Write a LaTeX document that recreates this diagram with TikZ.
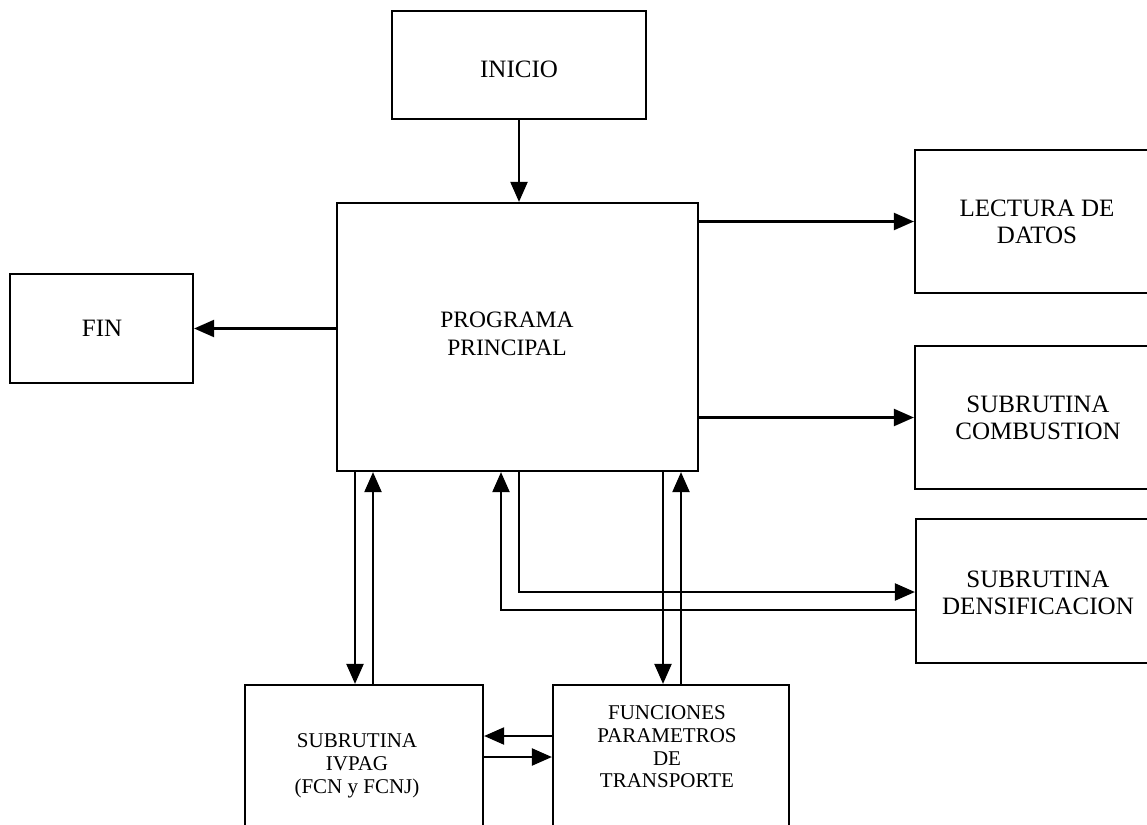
\documentclass[tikz,border=0pt]{standalone}
\usepackage{fontspec}
\setmainfont{Liberation Serif}
\usetikzlibrary{arrows.meta}
\tikzset{
  box/.style={draw, line width=2.2pt, rectangle, inner sep=0pt},
  txt/.style={align=center, inner sep=0pt, font=\fontsize{25}{27}\selectfont},
  txtmain/.style={align=center, inner sep=0pt, font=\fontsize{23.5}{28.5}\selectfont},
  txtsmall/.style={align=center, inner sep=0pt, font=\fontsize{21}{22.7}\selectfont},
  arr/.style={line width=2.2pt, -{Triangle[length=20pt,width=17pt]}}
}
\begin{document}
\begin{tikzpicture}[x=1pt,y=-1pt]
\useasboundingbox (0,0) rectangle (1147,824);
\clip (0,0) rectangle (1147,824);
\fill[white] (0,0) rectangle (1147,824);
% boxes
\node[box, minimum width=254pt, minimum height=108pt] (inicio) at (519,65) {};
\node[box, minimum width=361pt, minimum height=268pt] (main) at (517.5,337) {};
\node[box, minimum width=183pt, minimum height=109pt] (fin) at (101.5,328.5) {};
\node[box, minimum width=245pt, minimum height=143pt] (lectura) at (1037.5,221.5) {};
\node[box, minimum width=245pt, minimum height=143pt] (comb) at (1037.5,417.5) {};
\node[box, minimum width=244pt, minimum height=144pt] (densif) at (1038,591) {};
\node[box, minimum width=238pt, minimum height=175pt] (ivpag) at (364,772.5) {};
\node[box, minimum width=236pt, minimum height=175pt] (func) at (671,772.5) {};
% texts
\node[txt] (tinicio) at (519,69) {INICIO};
\node[txtmain] (tmain) at (507,334) {PROGRAMA\\PRINCIPAL};
\node[txt] (tfin) at (102,328) {FIN};
\node[txt] (tlectura) at (1037,222) {LECTURA DE\\DATOS};
\node[txt] (tcomb) at (1038,418) {SUBRUTINA\\COMBUSTION};
\node[txt] (tdensif) at (1038,593) {SUBRUTINA\\DENSIFICACION};
\node[txtsmall] (tivpag) at (357,766) {SUBRUTINA\\IVPAG\\(FCN y FCNJ)};
\node[txtsmall] (tfunc) at (667,747) {FUNCIONES\\PARAMETROS\\DE\\TRANSPORTE};
% helper coordinates
\coordinate (xa) at (355,0);
\coordinate (xb) at (373,0);
\coordinate (xc) at (501,0);
\coordinate (xd) at (519,0);
\coordinate (xe) at (663,0);
\coordinate (xf) at (681,0);
\coordinate (ya) at (0,592);
\coordinate (yb) at (0,610);
\coordinate (yc) at (0,736);
\coordinate (yd) at (0,757);
% connectors
\draw[arr] (inicio.south) -- (inicio.south |- main.north);
\draw[arr] (main.west |- fin.east) -- (fin.east);
\draw[arr] (main.east |- lectura.west) -- (lectura.west);
\draw[arr] (main.east |- comb.west) -- (comb.west);
\draw[arr] (main.south -| xd) |- (densif.west |- ya);
\draw[arr] (densif.west |- yb) -| (main.south -| xc);
\draw[arr] (main.south -| xa) -- (ivpag.north -| xa);
\draw[arr] (ivpag.north -| xb) -- (main.south -| xb);
\draw[arr] (main.south -| xe) -- (func.north -| xe);
\draw[arr] (func.north -| xf) -- (main.south -| xf);
\draw[arr] (func.west |- yc) -- (ivpag.east |- yc);
\draw[arr] (ivpag.east |- yd) -- (func.west |- yd);
\end{tikzpicture}
\end{document}
